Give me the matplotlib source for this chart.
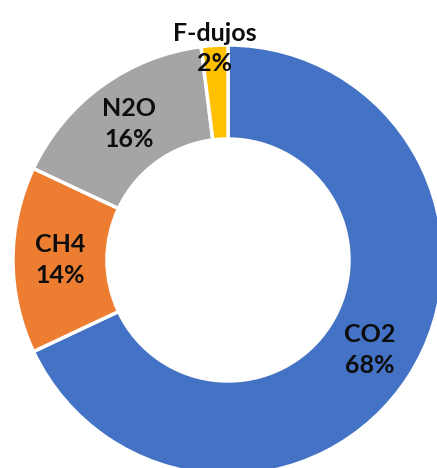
import numpy as np
import matplotlib.pyplot as plt

# šiltnamio efektą sukeliančių dujų dalys
labels = ['CO2', 'CH4', 'N2O', 'F-dujos']
values = [68, 14, 16, 2]
colors = ['#4472C4', '#ED7D31', '#A5A5A5', '#FFC000']

W, H = 437, 468
cx, cy = 228, 260      # donut centre (pixels from left / top)
R = 215
hole = 121

fig = plt.figure(figsize=(W / 100, H / 100), dpi=100)
ax = fig.add_axes([0, 0, 1, 1])

wedges, _ = ax.pie(values, colors=colors, startangle=90, counterclock=False,
                   radius=R, wedgeprops=dict(width=R - hole, edgecolor='white', linewidth=2.5))

# pie() sets its own limits, so set ours afterwards
ax.set_xlim(-cx, W - cx)
ax.set_ylim(-(H - cy), cy)
ax.set_aspect('equal')
ax.axis('off')

total = sum(values)
rmid = (R + hole) / 2
cum = np.cumsum([0] + values)
for i, lab in enumerate(labels):
    mid = np.deg2rad(90 - (cum[i] + values[i] / 2) / total * 360)
    r = rmid if values[i] > 5 else R - 3
    ax.text(r * np.cos(mid), r * np.sin(mid), f'{lab}\n{values[i] / total:.0%}',
            ha='center', va='center', fontsize=18, fontweight='bold',
            family='Lato', color='#0d0d0d', linespacing=1.4)

fig.savefig('out.png', dpi=100)
